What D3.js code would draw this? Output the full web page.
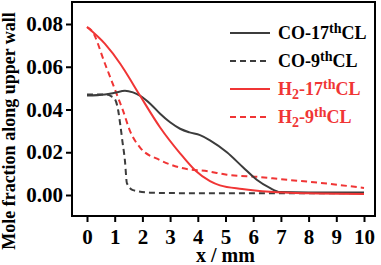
<!DOCTYPE html>
<html>
<head>
<meta charset="utf-8">
<script src="https://cdn.jsdelivr.net/npm/d3@7"></script>
<style>
  body { margin: 0; background: #fff; }
  text { font-family: "Liberation Serif", "Times New Roman", serif; font-weight: bold; }
</style>
</head>
<body>
<div id="chart"></div>
<script>
// data
const co17X = [0, 0.65, 1.0, 1.37, 1.66, 1.91, 2.3, 2.64, 3.0, 3.36, 3.7, 4.08, 4.44, 5.05, 5.63, 6.14, 6.6, 6.97, 8, 10];
const co17Y = [0.0465, 0.047, 0.0478, 0.0488, 0.048, 0.0465, 0.0425, 0.038, 0.034, 0.031, 0.0293, 0.028, 0.0256, 0.020, 0.013, 0.007, 0.0033, 0.0014, 0.0012, 0.0012];

const co9X = [0, 0.7, 0.9, 1.0, 1.12, 1.2, 1.28, 1.37, 1.44, 1.66, 2.27, 3, 5, 7, 10];
const co9Y = [0.047, 0.047, 0.046, 0.045, 0.040, 0.033, 0.025, 0.016, 0.0056, 0.0023, 0.0011, 0.0009, 0.0008, 0.0008, 0.0008];

const h217X = [0, 0.65, 1.2, 1.37, 1.9, 2.64, 3.36, 3.9, 4.44, 4.8, 5.6, 6.6, 8, 10];
const h217Y = [0.0786, 0.0707, 0.0614, 0.058, 0.0468, 0.0316, 0.0195, 0.0116, 0.0065, 0.0045, 0.0028, 0.0015, 0.0008, 0.0005];

const h29X = [0, 0.18, 0.65, 1.12, 1.3, 1.55, 1.91, 2.64, 3.36, 4.4, 5.05, 6.25, 7.0, 8.4, 10];
const h29Y = [0.0785, 0.0767, 0.0614, 0.0456, 0.0395, 0.030, 0.0223, 0.0163, 0.0128, 0.011, 0.0095, 0.0084, 0.0074, 0.0057, 0.0033];

const xTicks = [0, 1, 2, 3, 4, 5, 6, 7, 8, 9, 10];
const yTicks = [0.00, 0.02, 0.04, 0.06, 0.08];

const gray = "#3c3c3c";
const red = "#f03535";

const series = [
  { xs: co17X, ys: co17Y, color: gray, dash: null },
  { xs: co9X, ys: co9Y, color: gray, dash: "6,4" },
  { xs: h217X, ys: h217Y, color: red, dash: null },
  { xs: h29X, ys: h29Y, color: red, dash: "6,4" }
];

const W = 381, H = 265;
const frame = { left: 72, top: 2, right: 375, bottom: 216 };

const svg = d3.select("#chart").append("svg")
  .attr("width", W)
  .attr("height", H);

const x = d3.scaleLinear().domain([0, 10]).range([87, 364]);
const y = d3.scaleLinear().domain([0, 0.08]).range([195, 24]);

// clip to frame
svg.append("clipPath").attr("id", "clip")
  .append("rect")
  .attr("x", frame.left).attr("y", frame.top)
  .attr("width", frame.right - frame.left).attr("height", frame.bottom - frame.top);

const line = d3.line()
  .x(d => x(d[0]))
  .y(d => y(d[1]))
  .curve(d3.curveMonotoneX);

// dashed first so solids sit on top
const order = [1, 3, 0, 2];
order.forEach(i => {
  const s = series[i];
  svg.append("path")
    .datum(s.xs.map((v, j) => [v, s.ys[j]]))
    .attr("clip-path", "url(#clip)")
    .attr("fill", "none")
    .attr("stroke", s.color)
    .attr("stroke-width", 2)
    .attr("stroke-dasharray", s.dash)
    .attr("d", line);
});

// axes
const xAxis = svg.append("g")
  .attr("transform", `translate(0, ${frame.bottom})`)
  .call(d3.axisBottom(x).tickValues(xTicks).tickFormat(d3.format("d")).tickSize(6).tickSizeOuter(0).tickPadding(7));

const yAxis = svg.append("g")
  .attr("transform", `translate(${frame.left}, 0)`)
  .call(d3.axisLeft(y).tickValues(yTicks).tickFormat(d3.format(".2f")).tickSize(6).tickSizeOuter(0).tickPadding(3));

[xAxis, yAxis].forEach(a => {
  a.select(".domain").remove();
  a.selectAll(".tick line").attr("stroke", "#000").attr("stroke-width", 2);
  a.selectAll(".tick text")
    .attr("fill", "#000")
    .style("font-family", "'Liberation Serif', serif")
    .style("font-weight", "bold")
    .style("font-size", "21px");
});

// frame
svg.append("rect")
  .attr("x", frame.left)
  .attr("y", frame.top)
  .attr("width", frame.right - frame.left)
  .attr("height", frame.bottom - frame.top)
  .attr("fill", "none")
  .attr("stroke", "#000")
  .attr("stroke-width", 2);

// axis titles
svg.append("text")
  .attr("x", (x(0) + x(10)) / 2)
  .attr("y", 262)
  .attr("text-anchor", "middle")
  .style("font-size", "20px")
  .text("x / mm");

svg.append("text")
  .attr("transform", "rotate(-90)")
  .attr("x", -131)
  .attr("y", 15)
  .attr("text-anchor", "middle")
  .style("font-size", "18px")
  .text("Mole fraction along upper wall");

// legend
const legendLabels = [
  [["CO-17", 0], ["th", -6], ["CL", 0]],
  [["CO-9", 0], ["th", -6], ["CL", 0]],
  [["H", 0], ["2", 4], ["-17", 0], ["th", -6], ["CL", 0]],
  [["H", 0], ["2", 4], ["-9", 0], ["th", -6], ["CL", 0]]
];

const legend = svg.selectAll(".legend")
  .data(series)
  .enter()
  .append("g")
  .attr("class", "legend")
  .attr("transform", (d, i) => `translate(230, ${33 + i * 28})`);

legend.append("line")
  .attr("x1", 0).attr("x2", 40)
  .attr("stroke", d => d.color)
  .attr("stroke-width", 2)
  .attr("stroke-dasharray", d => d.dash);

legend.each(function (d, i) {
  const t = d3.select(this).append("text")
    .attr("x", 48)
    .attr("y", 6)
    .attr("fill", d.color === gray ? "#000" : red)
    .style("font-size", "18px");
  let prev = 0;
  legendLabels[i].forEach(([str, shift]) => {
    t.append("tspan")
      .attr("dy", shift - prev)
      .style("font-size", shift === 0 ? "18px" : "14px")
      .text(str);
    prev = shift;
  });
});
</script>
</body>
</html>
